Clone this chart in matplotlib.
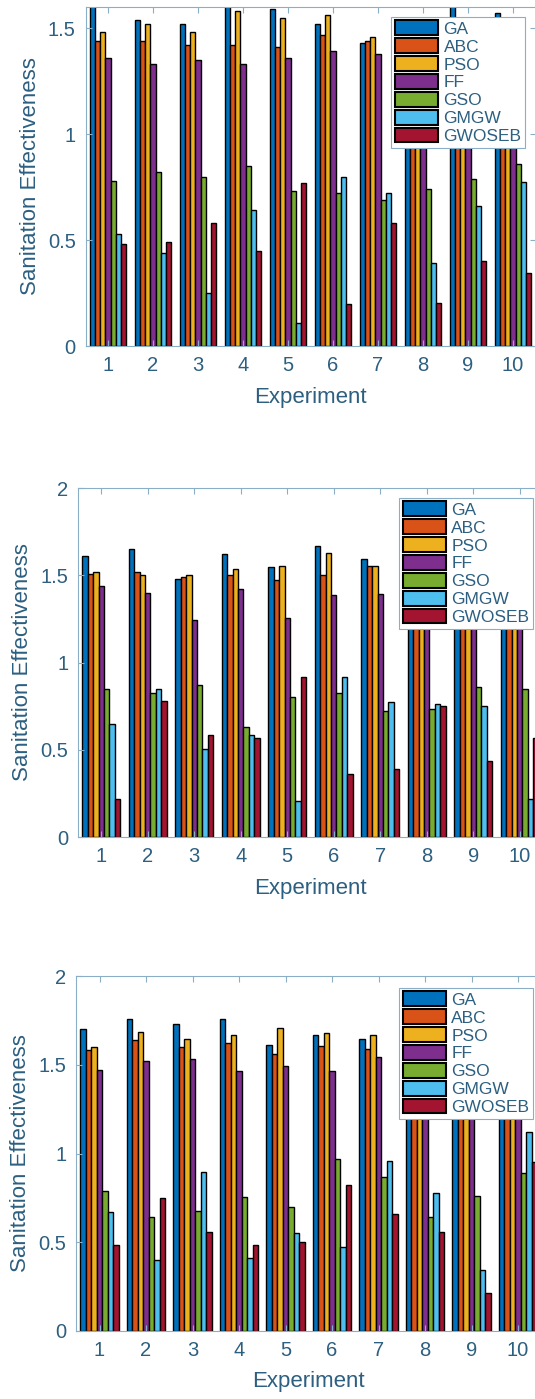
import numpy as np
import matplotlib.pyplot as plt

plt.rcParams['font.family'] = ['Liberation Sans', 'DejaVu Sans']

experiments = np.arange(1, 11)
algorithms = ["GA", "ABC", "PSO", "FF", "GSO", "GMGW", "GWOSEB"]
colors = ["#0072BD", "#D95319", "#EDB120", "#7E2F8E", "#77AC30", "#4DBEEE", "#A2142F"]

# top panel
ga_1 = [1.62, 1.54, 1.52, 1.62, 1.59, 1.52, 1.43, 1.50, 1.65, 1.57]
abc_1 = [1.44, 1.44, 1.42, 1.42, 1.41, 1.47, 1.44, 1.40, 1.45, 1.43]
pso_1 = [1.48, 1.52, 1.48, 1.58, 1.55, 1.56, 1.46, 1.47, 1.50, 1.48]
ff_1 = [1.36, 1.33, 1.35, 1.33, 1.36, 1.39, 1.38, 1.32, 1.36, 1.35]
gso_1 = [0.78, 0.82, 0.80, 0.85, 0.73, 0.72, 0.69, 0.74, 0.79, 0.86]
gmgw_1 = [0.53, 0.44, 0.25, 0.64, 0.11, 0.80, 0.72, 0.39, 0.66, 0.775]
gwoseb_1 = [0.48, 0.49, 0.58, 0.45, 0.77, 0.20, 0.58, 0.205, 0.40, 0.345]

# middle panel
ga_2 = [1.61, 1.65, 1.48, 1.62, 1.545, 1.665, 1.595, 1.55, 1.58, 1.52]
abc_2 = [1.51, 1.52, 1.49, 1.50, 1.475, 1.50, 1.555, 1.48, 1.50, 1.45]
pso_2 = [1.52, 1.50, 1.50, 1.535, 1.555, 1.63, 1.555, 1.50, 1.52, 1.48]
ff_2 = [1.44, 1.40, 1.245, 1.42, 1.255, 1.385, 1.395, 1.30, 1.35, 1.38]
gso_2 = [0.85, 0.825, 0.87, 0.63, 0.805, 0.825, 0.72, 0.735, 0.86, 0.85]
gmgw_2 = [0.65, 0.85, 0.505, 0.585, 0.205, 0.915, 0.775, 0.76, 0.75, 0.22]
gwoseb_2 = [0.22, 0.78, 0.585, 0.57, 0.915, 0.36, 0.39, 0.75, 0.435, 0.57]

# bottom panel
ga_3 = [1.70, 1.755, 1.73, 1.755, 1.61, 1.67, 1.645, 1.60, 1.62, 1.58]
abc_3 = [1.585, 1.64, 1.60, 1.625, 1.56, 1.605, 1.59, 1.55, 1.55, 1.52]
pso_3 = [1.60, 1.685, 1.645, 1.665, 1.705, 1.68, 1.67, 1.62, 1.60, 1.58]
ff_3 = [1.47, 1.52, 1.53, 1.465, 1.495, 1.465, 1.545, 1.45, 1.48, 1.46]
gso_3 = [0.79, 0.64, 0.675, 0.755, 0.70, 0.97, 0.87, 0.64, 0.76, 0.89]
gmgw_3 = [0.67, 0.40, 0.895, 0.41, 0.55, 0.475, 0.96, 0.78, 0.345, 1.12]
gwoseb_3 = [0.485, 0.75, 0.555, 0.485, 0.50, 0.825, 0.66, 0.56, 0.215, 0.95]

yticks_1 = [0, 0.5, 1, 1.5]
yticks_23 = [0, 0.5, 1, 1.5, 2]

W, H = 535, 1399
text_col = "#2c5f80"
spine_col = "#8aaec6"

fig = plt.figure(figsize=(W / 100, H / 100), dpi=100)


def panel(series, left, top, width, height, ymax, yticks, leg_right, leg_top, ylab_x):
    ax = fig.add_axes([left / W, 1 - (top + height) / H, width / W, height / H])
    bw = 0.82 / len(series)
    for i, vals in enumerate(series):
        ax.bar(experiments + (i - 3) * bw, vals, bw, color=colors[i],
               edgecolor="black", linewidth=1.0, label=algorithms[i])
    ax.set_xlim(0.5, 10.5)
    ax.set_ylim(0, ymax)
    ax.set_xticks(experiments)
    ax.set_yticks(yticks)
    ax.set_yticklabels([f"{v:g}" for v in yticks])
    ax.tick_params(direction="in", length=4, width=0.8, color=spine_col,
                   labelcolor=text_col, labelsize=14.5, top=True, right=True)
    ax.tick_params(axis="x", pad=7)
    ax.tick_params(axis="y", pad=7)
    for s in ax.spines.values():
        s.set_color(spine_col)
        s.set_linewidth(0.8)
    ax.set_ylabel("Sanitation Effectiveness", fontsize=16, color=text_col, va="center")
    ax.yaxis.set_label_coords((ylab_x - left) / width, 0.5)
    ax.set_xlabel("Experiment", fontsize=16, color=text_col, va="center")
    ax.xaxis.set_label_coords(0.5, -51 / height)
    leg = ax.legend(loc="upper right", bbox_to_anchor=(leg_right / W, 1 - leg_top / H),
                    bbox_transform=fig.transFigure, borderaxespad=0, fontsize=12.5,
                    handlelength=2.5, handleheight=0.9, handletextpad=0.3,
                    labelspacing=0.1, borderpad=0.2, fancybox=False, framealpha=1,
                    edgecolor=spine_col)
    leg.get_frame().set_linewidth(0.8)
    for t in leg.get_texts():
        t.set_color(text_col)
    for p in leg.get_patches():
        p.set_linewidth(1.5)
    return ax


panel([ga_1, abc_1, pso_1, ff_1, gso_1, gmgw_1, gwoseb_1],
      85.5, 7, 450, 339, 1.6, yticks_1, 525, 17, 31)
panel([ga_2, abc_2, pso_2, ff_2, gso_2, gmgw_2, gwoseb_2],
      78, 488, 465, 349, 2, yticks_23, 532.7, 498, 23)
panel([ga_3, abc_3, pso_3, ff_3, gso_3, gmgw_3, gwoseb_3],
      76.25, 976, 465, 355, 2, yticks_23, 532.7, 988, 21)

fig.savefig("out.png", dpi=100)
